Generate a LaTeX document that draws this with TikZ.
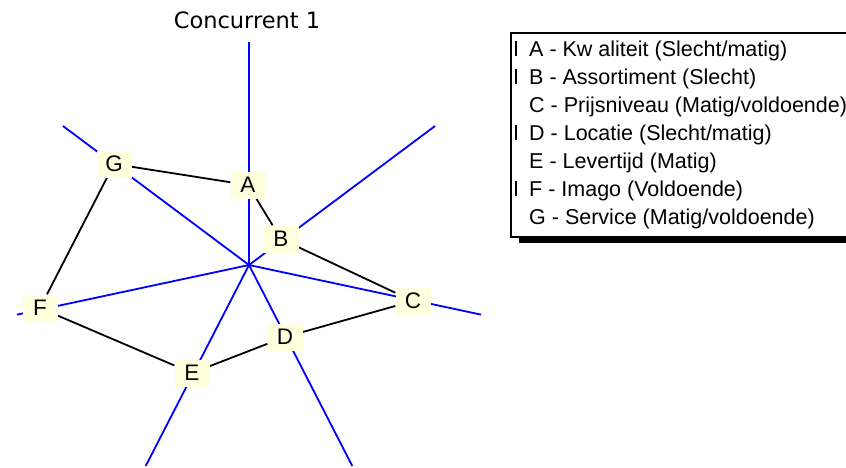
\documentclass[tikz,border=0pt]{standalone}
\usepackage{fontspec}
\setmainfont{Liberation Sans}
\newfontfamily\titlefont{DejaVu Sans}
\usetikzlibrary{backgrounds}
\definecolor{boxfill}{RGB}{255,255,221}
\definecolor{axisblue}{RGB}{0,0,255}

\begin{document}
\begin{tikzpicture}[x=1pt,y=-1pt,
  axis/.style={axisblue,line width=1.8pt},
  edge/.style={black,line width=1.8pt},
  point/.style={fill=boxfill,inner sep=0pt,minimum width=35pt,minimum height=27pt,font=\fontsize{22.5}{22.5}\selectfont},
  entry/.style={anchor=base west,inner sep=0pt,font=\fontsize{21.5}{21.5}\selectfont}]
\useasboundingbox (0,0) rectangle (846,467);
\node (title) at (247,20) {\titlefont\fontsize{22.5}{22.5}\selectfont Concurrent 1};
\coordinate (O) at (249,265);
\node [point] (A) at (248,185) {A};
\node [point] (B) at (281,239) {B};
\node [point] (C) at (413,301) {C};
\node [point] (D) at (285,337) {D};
\node [point] (E) at (192,373) {E};
\node [point] (F) at (40,308) {F};
\node [point] (G) at (114,164) {G};
\begin{pgfonlayer}{background}
\foreach \k/\lab in {0/A,1/B,2/C,3/D,4/E,5/F,6/G} {
  \coordinate (end\lab) at ({249+238*cos(90-\k*360/7)},{265-223*sin(90-\k*360/7)});
  \draw [axis] (O) -- (end\lab);
}
\foreach \p/\q in {A/B,B/C,C/D,D/E,E/F,F/G,G/A}
  \draw [edge] (\p) -- (\q);
\end{pgfonlayer}
% legend
\fill [black] (519,237) rectangle (880,243);
\draw [black,line width=1.2pt,fill=white] (511,33) rectangle (875,237);
\node [entry] (lA) at (529,56) {A - Kw aliteit (Slecht/matig)};
\node [entry] (lB) at (529,84) {B - Assortiment (Slecht)};
\node [entry] (lC) at (529,112) {C - Prijsniveau (Matig/voldoende)};
\node [entry] (lD) at (529,140) {D - Locatie (Slecht/matig)};
\node [entry] (lE) at (529,168) {E - Levertijd (Matig)};
\node [entry] (lF) at (529,196) {F - Imago (Voldoende)};
\node [entry] (lG) at (529,224) {G - Service (Matig/voldoende)};
\foreach \y in {56,84,140,196}
  \draw [black,line width=1.5pt] (516,\y) -- (516,\y-15);
\end{tikzpicture}
\end{document}
